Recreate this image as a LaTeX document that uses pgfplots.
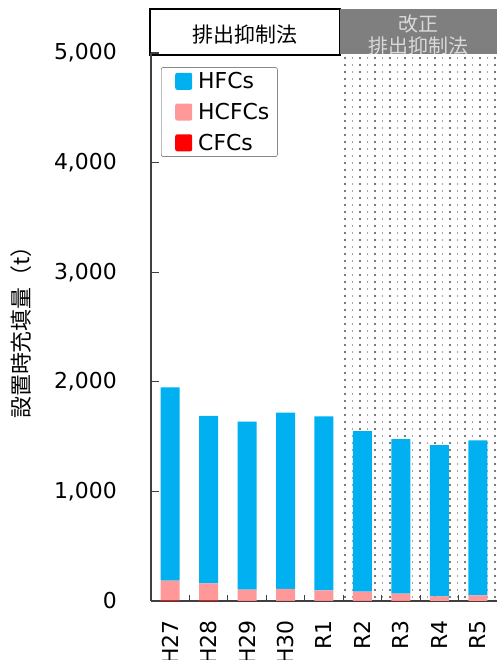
\documentclass[border=0pt]{standalone}
\usepackage{pgfplots}
\pgfplotsset{compat=1.18}
\usepackage{pgfplotstable}
\usepackage{fontspec}
\setmainfont{DejaVu Sans}
\newfontfamily\jp{Noto Sans CJK JP}
\usetikzlibrary{patterns}
\definecolor{hfc}{RGB}{0,176,240}
\definecolor{hcfc}{RGB}{255,153,153}
\definecolor{cfc}{RGB}{255,0,0}
\definecolor{hdrgray}{RGB}{127,127,127}
\pgfdeclarepatternformonly{mydots}{\pgfqpoint{-1.5bp}{-1.5bp}}{\pgfqpoint{13.5bp}{5.5bp}}{\pgfqpoint{15bp}{7bp}}{%
  \pgfpathcircle{\pgfqpoint{0bp}{0bp}}{1.05bp}\pgfusepath{fill}%
  \pgfpathcircle{\pgfqpoint{7.5bp}{0bp}}{0.55bp}\pgfusepath{fill}}

\pgfplotstableread{
x cat CFC HCFC HFC
0 H27 6 180 1764
1 H28 5 156 1529
2 H29 2 102 1532
3 H30 2 108 1608
4 R1 1 97 1587
5 R2 1 85 1465
6 R3 1 67 1410
7 R4 0 43 1380
8 R5 0 52 1414
}\data

\begin{document}
\begin{tikzpicture}
\path[use as bounding box] (0,0) rectangle (500bp,660bp);
% dotted background for the revised-law period
\fill[pattern=mydots, pattern color=black!70] (340bp,59bp) rectangle (497bp,607bp);
% header boxes
\draw[black, line width=1.3bp, fill=white] (150bp,605bp) rectangle (340bp,651bp);
\fill[hdrgray] (340bp,606bp) rectangle (497bp,651bp);
\node[font=\jp\fontsize{21}{24}\selectfont] at (245bp,625bp) {排出抑制法};
\begin{scope}
\clip (340bp,606bp) rectangle (497bp,651bp);
\node[font=\jp\fontsize{20}{24}\selectfont, text=white!85!black] at (418.5bp,636bp) {改正};
\node[font=\jp\fontsize{20}{24}\selectfont, text=white!85!black] at (418.5bp,614bp) {排出抑制法};
\end{scope}
\begin{axis}[
  at={(151bp,59bp)}, anchor=south west, scale only axis,
  width=346bp, height=548bp,
  ybar stacked, bar width=19bp,
  xmin=-0.5, xmax=8.5, ymin=0, ymax=5000,
  axis x line*=bottom, axis y line*=left,
  axis line style={black!75, line width=1.2bp},
  tick align=inside,
  xtick={0,...,8},
  xticklabels={H27,H28,H29,H30,R1,R2,R3,R4,R5},
  major x tick style={draw=none},
  minor xtick={0.5,1.5,...,7.5},
  minor tick length=6bp,
  minor tick style={black!75, line width=1.2bp},
  ytick={0,1000,...,5000},
  major tick length=8bp,
  ytick style={black!75, line width=1.2bp},
  scaled y ticks=false,
  /pgf/number format/.cd, 1000 sep={,}, assume math mode=true,
  /pgfplots/.cd,
  yticklabel style={font=\fontsize{22}{26}\selectfont, inner sep=0pt, xshift=-34bp, anchor=east},
  xticklabel style={font=\fontsize{22}{26}\selectfont, rotate=90, anchor=east, inner sep=0pt, xshift=-19bp},
  ylabel={\jp 設置時充填量（t）},
  ylabel style={font=\jp\fontsize{22}{26}\selectfont, at={(axis description cs:-0.375,0.5)}, anchor=center, rotate=0},
  legend style={at={(axis description cs:0.029,0.974)}, anchor=north west,
    draw=black!70, rounded corners=2bp, font=\fontsize{22}{26}\selectfont,
    inner xsep=6bp, inner ysep=3bp, row sep=9bp},
  legend cell align=left,
  reverse legend,
  legend image code/.code={\path (-8bp,0) (21bp,0); \fill[#1] (0bp,-8.5bp) rectangle (17bp,8.5bp);},
]
\addplot[fill=cfc, draw=none] table[x=x, y=CFC] {\data};
\addplot[fill=hcfc, draw=none] table[x=x, y=HCFC] {\data};
\addplot[fill=hfc, draw=none] table[x=x, y=HFC] {\data};
\legend{CFCs, HCFCs, HFCs}
\end{axis}
\end{tikzpicture}
\end{document}
